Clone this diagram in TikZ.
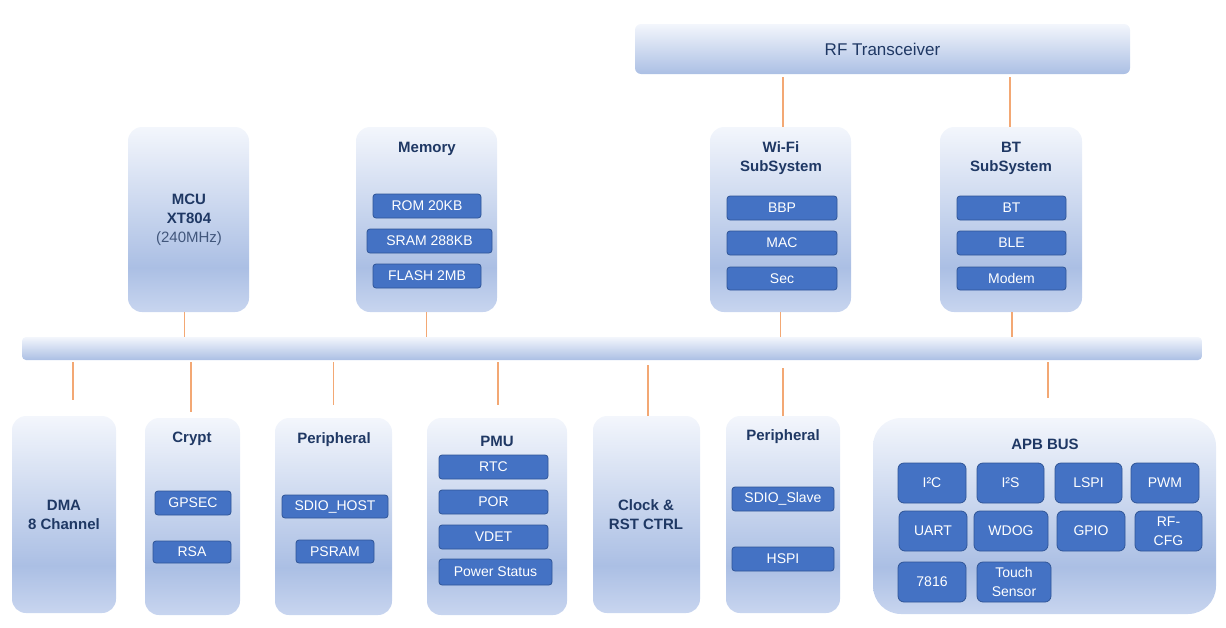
\documentclass[tikz,border=0pt]{standalone}
\usepackage{fontspec}
\setmainfont{Liberation Sans}
\usetikzlibrary{positioning}
\definecolor{boxtop}{HTML}{F3F6FC}
\definecolor{boxmid}{HTML}{ABBFE4}
\definecolor{boxbot}{HTML}{C8D5EF}
\definecolor{unitfill}{HTML}{4472C4}
\definecolor{unitline}{HTML}{2F5597}
\definecolor{navy}{HTML}{1F3864}
\definecolor{wire}{HTML}{F3A874}
\pgfdeclareverticalshading{blockshade}{100bp}{color(0bp)=(boxbot); color(25bp)=(boxbot); color(37bp)=(boxmid); color(75bp)=(boxtop); color(100bp)=(boxtop)}
\pgfdeclareverticalshading{barshade}{100bp}{color(0bp)=(boxmid); color(25bp)=(boxmid); color(75bp)=(boxtop); color(100bp)=(boxtop)}
\begin{document}
\begin{tikzpicture}[x=1pt, y=-1pt]
      \tikzset{
	  block/.style={rectangle, rounded corners=14pt, shading=blockshade, inner sep=0pt},
	  bar/.style={rectangle, rounded corners=5pt, shading=barshade, inner sep=0pt},
	  unit/.style={rectangle, rounded corners=3pt, fill=unitfill, draw=unitline, line width=0.8pt, text=white, inner sep=0pt, align=center, font=\fontsize{14}{19}\selectfont},
	  ttl/.style={text=navy, inner sep=0pt, align=center, font=\bfseries\fontsize{15}{19}\selectfont},
	  sz/.style 2 args={minimum width=#1pt, minimum height=#2pt},
	  link/.style={draw=wire, line width=1.3pt}
      }
      \useasboundingbox (0,0) rectangle (1226,627);

      % top row
      \node at (882.5,49) [bar, sz={495}{50}, rounded corners=6pt, text=navy, font=\fontsize{17}{20}\selectfont] (rf) {RF Transceiver};
      \node at (188.5,219.5) [block, sz={121}{185}] (mcu) {};
      \node at (426.5,219.5) [block, sz={141}{185}] (mem) {};
      \node at (780.5,219.5) [block, sz={141}{185}] (wifi) {};
      \node at (1011,219.5) [block, sz={142}{185}] (bt) {};
      \node at (612,348.5) [bar, sz={1180}{23}, rounded corners=4pt] (bus) {};

      \node at (189,220) [ttl] (mcut) {MCU\\XT804\\{\mdseries\color{navy!85}(240MHz)}};
      \node at (427,149) [ttl] (memt) {Memory};
      \node at (427,206) [unit, sz={108}{24}] (rom) {ROM 20KB};
      \node at (429.5,241) [unit, sz={125}{24}] (sram) {SRAM 288KB};
      \node at (427,276) [unit, sz={108}{24}] (flash) {FLASH 2MB};
      \node at (781,158) [ttl] (wifit) {Wi-Fi\\SubSystem};
      \node at (782,208) [unit, sz={110}{24}] (bbp) {BBP};
      \node at (782,243) [unit, sz={110}{24}] (mac) {MAC};
      \node at (782,278.5) [unit, sz={110}{23}] (sec) {Sec};
      \node at (1011,158) [ttl] (btt) {BT\\SubSystem};
      \node at (1011.5,208) [unit, sz={109}{24}] (btu) {BT};
      \node at (1011.5,243) [unit, sz={109}{24}] (ble) {BLE};
      \node at (1011.5,278.5) [unit, sz={109}{23}] (modem) {Modem};

      % bottom row
      \node at (64,514.5) [block, sz={104}{197}] (dma) {};
      \node at (192.5,516.5) [block, sz={95}{197}] (crypt) {};
      \node at (333.5,516.5) [block, sz={117}{197}] (peri) {};
      \node at (497,516.5) [block, sz={140}{197}] (pmu) {};
      \node at (646.5,514.5) [block, sz={107}{197}] (clk) {};
      \node at (783,514.5) [block, sz={114}{197}] (perib) {};
      \node at (1044.5,516) [block, sz={343}{196}, rounded corners=28pt] (apb) {};

      \node at (64,515) [ttl] (dmat) {DMA\\8 Channel};
      \node at (192,439) [ttl] (cryptt) {Crypt};
      \node at (193,503) [unit, sz={76}{24}] (gpsec) {GPSEC};
      \node at (192,552) [unit, sz={78}{22}] (rsa) {RSA};
      \node at (334,440) [ttl] (perit) {Peripheral};
      \node at (335,506.5) [unit, sz={106}{23}] (sdioh) {SDIO\_HOST};
      \node at (335,551.5) [unit, sz={78}{23}] (psram) {PSRAM};
      \node at (497,441) [ttl] (pmut) {PMU};
      \node at (493.5,467) [unit, sz={109}{24}] (rtc) {RTC};
      \node at (493.5,502) [unit, sz={109}{24}] (por) {POR};
      \node at (493.5,537) [unit, sz={109}{24}] (vdet) {VDET};
      \node at (495.5,572) [unit, sz={113}{26}] (pwrst) {Power Status};
      \node at (646,515) [ttl] (clkt) {Clock \&\\RST CTRL};
      \node at (783,437) [ttl] (peribt) {Peripheral};
      \node at (783,499) [unit, sz={102}{24}] (sdios) {SDIO\_Slave};
      \node at (783,559) [unit, sz={102}{24}] (hspi) {HSPI};

      % APB bus units
      \node at (1045,444) [ttl] (apbt) {APB BUS};
      \tikzset{apbunit/.style={unit, rounded corners=6pt, minimum height=40pt}}
      \node at (932,483) [apbunit, minimum width=68pt] (i2c) {I²C};
      \node at (1010.5,483) [apbunit, minimum width=67pt] (i2s) {I²S};
      \node at (1088.5,483) [apbunit, minimum width=67pt] (lspi) {LSPI};
      \node at (1165,483) [apbunit, minimum width=68pt] (pwm) {PWM};
      \node at (933,531) [apbunit, minimum width=68pt] (uart) {UART};
      \node at (1011,531) [apbunit, minimum width=74pt] (wdog) {WDOG};
      \node at (1091,531) [apbunit, minimum width=68pt] (gpio) {GPIO};
      \node at (1168.5,531) [apbunit, minimum width=67pt] (rfcfg) {RF-\\CFG};
      \node at (932,582) [apbunit, minimum width=68pt] (u7816) {7816};
      \node at (1014,582) [apbunit, minimum width=74pt] (touch) {Touch\\Sensor};

      % connectors
      \draw[link] ([xshift=-4pt]mcu.south) -- ([xshift=-4pt]mcu.south |- bus.north);
      \draw[link] (mem.south) -- (mem.south |- bus.north);
      \draw[link] (wifi.south) -- (wifi.south |- bus.north);
      \draw[link] ([xshift=1pt]bt.south) -- ([xshift=1pt]bt.south |- bus.north);
      \draw[link, shorten >=3pt] ([xshift=2.5pt]wifi.north) -- ([xshift=2.5pt]wifi.north |- rf.south);
      \draw[link, shorten >=3pt] ([xshift=-1pt]bt.north) -- ([xshift=-1pt]bt.north |- rf.south);
      \draw[link, shorten <=2pt, shorten >=16pt] ([xshift=9pt]dma.north |- bus.south) -- ([xshift=9pt]dma.north);
      \draw[link, shorten <=2pt, shorten >=6pt] ([xshift=-1.5pt]crypt.north |- bus.south) -- ([xshift=-1.5pt]crypt.north);
      \draw[link, shorten <=2pt, shorten >=13pt] (peri.north |- bus.south) -- (peri.north);
      \draw[link, shorten <=2pt, shorten >=13pt] ([xshift=1pt]pmu.north |- bus.south) -- ([xshift=1pt]pmu.north);
      \draw[link, shorten <=5pt] ([xshift=1.5pt]clk.north |- bus.south) -- ([xshift=1.5pt]clk.north);
      \draw[link, shorten <=8pt] (perib.north |- bus.south) -- (perib.north);
      \draw[link, shorten <=2pt, shorten >=20pt] ([xshift=3.5pt]apb.north |- bus.south) -- ([xshift=3.5pt]apb.north);
\end{tikzpicture}
\end{document}
